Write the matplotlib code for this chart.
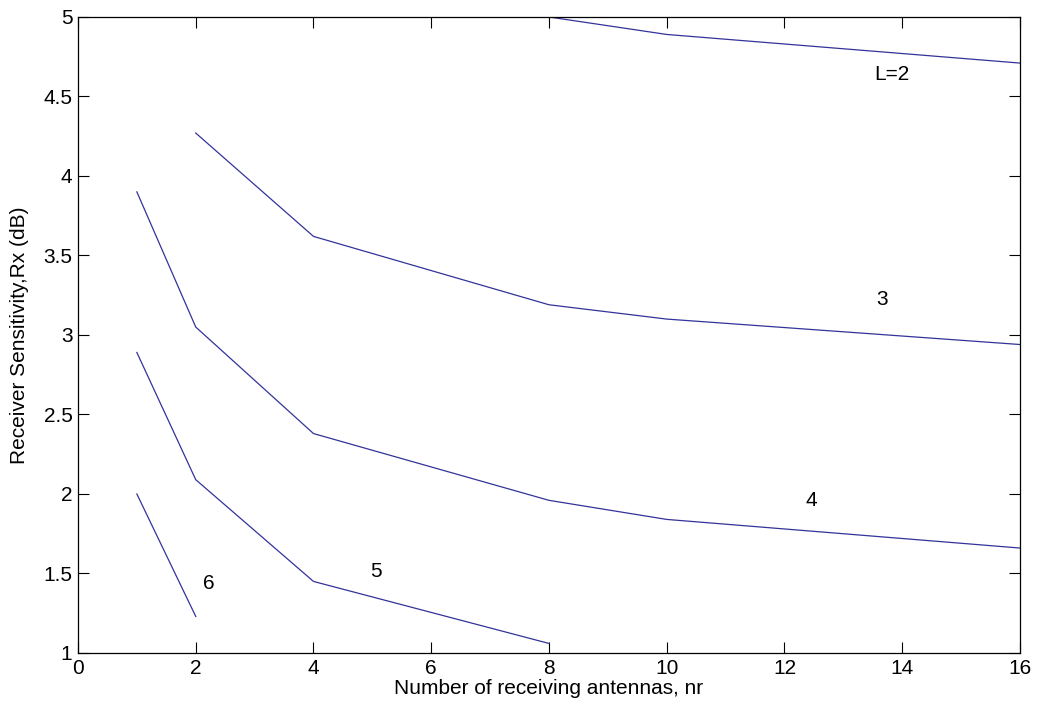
import matplotlib.pyplot as plt
import numpy as np

plt.rcParams['font.family'] = ['Liberation Sans', 'DejaVu Sans']

# number of receiving antennas for each curve
nr_L2 = [8, 10, 16]
nr_L3 = [2, 4, 8, 10, 16]
nr_L4 = [1, 2, 4, 8, 10, 16]
nr_L5 = [1, 2, 4, 8]
nr_L6 = [1, 2]

# receiver sensitivity (dB)
rx_L2 = [5.0, 4.89, 4.71]
rx_L3 = [4.27, 3.62, 3.19, 3.10, 2.94]
rx_L4 = [3.90, 3.05, 2.38, 1.96, 1.84, 1.66]
rx_L5 = [2.89, 2.09, 1.45, 1.06]
rx_L6 = [2.00, 1.23]

# curve labels and where they sit
label_text = ['L=2', '3', '4', '5', '6']
label_x = [13.82, 13.65, 12.46, 5.06, 2.22]
label_y = [4.64, 3.22, 1.96, 1.51, 1.44]

fig = plt.figure(figsize=(10.37, 7.07), dpi=100)
ax = fig.add_axes([0.0752, 0.0764, 0.9084, 0.8996])

line_color = '#33339a'
for xs, ys in [(nr_L2, rx_L2), (nr_L3, rx_L3), (nr_L4, rx_L4),
               (nr_L5, rx_L5), (nr_L6, rx_L6)]:
    ax.plot(xs, ys, color=line_color, linewidth=0.9)

for t, x, y in zip(label_text, label_x, label_y):
    ax.text(x, y, t, ha='center', va='center', fontsize=15)

ax.set_xlim(0, 16)
ax.set_ylim(1, 5)
ax.set_xticks(np.arange(0, 17, 2))
ax.set_yticks(np.arange(1, 5.01, 0.5))
ax.set_yticklabels(['1', '1.5', '2', '2.5', '3', '3.5', '4', '4.5', '5'])
ax.tick_params(direction='in', top=True, right=True, length=8, width=0.8,
               labelsize=15, pad=4)
for s in ax.spines.values():
    s.set_linewidth(0.9)

ax.set_xlabel('Number of receiving antennas, nr', fontsize=15)
ax.set_ylabel('Receiver Sensitivity,Rx (dB)', fontsize=15)
ax.xaxis.set_label_coords(0.5, -0.041)
ax.yaxis.set_label_coords(-0.052, 0.5)

fig.savefig('out.png', dpi=100)
